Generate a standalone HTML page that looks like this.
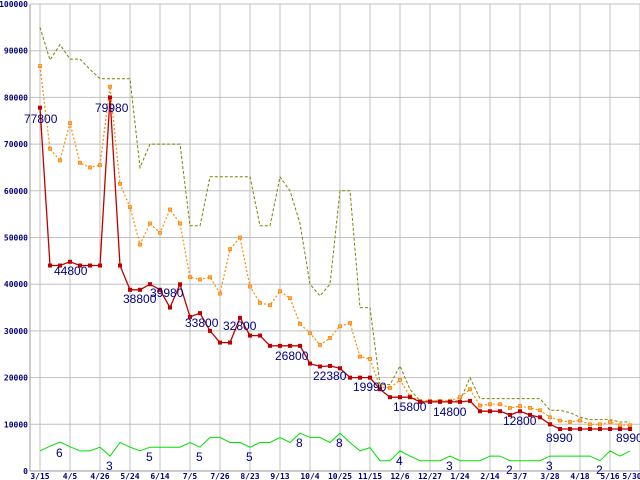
<!DOCTYPE html>
<html><head><style>body{margin:0;background:#fff}svg{display:block}</style></head>
<body>
<svg id="c" width="640" height="480" xmlns="http://www.w3.org/2000/svg" font-family="Liberation Sans, sans-serif"></svg>
<script>
const s=document.getElementById('c');let h='';
const Y=v=>471-v*0.00467;
const X=i=>40+i*10;
// grid
for(let x=40;x<=640;x+=30)h+=`<line x1="${x}" y1="4" x2="${x}" y2="471" stroke="#c0c0c0"/>`;
for(let k=0;k<=10;k++){const y=Y(k*10000).toFixed(1);h+=`<line x1="30" y1="${y}" x2="640" y2="${y}" stroke="#c0c0c0"/>`;
h+=`<text x="28" y="${+y+3}" text-anchor="end" font-size="8" font-weight="bold" fill="#000080" font-family="DejaVu Sans Mono, monospace">${k*10000}</text>`;}
h+=`<line x1="30" y1="4" x2="30" y2="471" stroke="#999"/><line x1="30" y1="471" x2="640" y2="471" stroke="#999"/>`;
const xl=['3/15','4/5','4/26','5/24','6/14','7/5','7/26','8/23','9/13','10/4','10/25','11/15','12/6','12/27','1/24','2/14','3/7','3/28','4/18','5/16','5/30'];
xl.forEach((t,i)=>{const x=i<20?40+30*i:632;h+=`<text x="${x}" y="479" text-anchor="middle" font-size="8" font-weight="bold" fill="#000080" font-family="DejaVu Sans Mono, monospace">${t}</text>`});
const mx=[95000,88000,91300,88200,88200,86000,84000,84000,84000,84000,65000,70000,70000,70000,70000,52500,52500,63000,63000,63000,63000,63000,52500,52500,63000,60000,53000,40000,37500,40000,60000,60000,35000,35000,18500,18500,22500,17500,15000,15000,15000,15000,15000,20000,15500,15500,15500,15500,15500,15500,15500,13000,13000,12500,11500,11000,11000,11000,10500,10500];
const av=[86700,69000,66500,74500,66000,65000,65500,82300,61500,56500,48500,53000,51000,56000,53000,41500,41000,41500,38000,47500,50000,39500,36000,35500,38500,37000,31500,29500,27000,28500,31000,31700,24500,24000,18000,17800,19500,16000,15000,15000,15000,15000,15800,17500,14000,14300,14300,13500,13900,13500,13000,11500,10800,10500,10800,10000,10000,10500,9800,9800];
const mn=[77800,44000,44000,44800,44000,44000,44000,79980,44000,38800,38800,40000,38800,35000,39980,33000,33800,30000,27500,27500,32800,29000,29000,26800,26800,26800,26800,23000,22380,22500,22000,19990,19990,19990,17500,15800,15800,15800,14800,14800,14800,14800,14800,15000,12800,12800,12800,12000,12800,12000,11500,10000,8990,8990,8990,8990,8990,8990,8990,8990];
const gr=[4300,5300,6200,5200,4300,4300,5100,3200,6100,5100,4300,5100,5100,5100,5100,6100,5100,7200,7200,6100,6100,5100,6100,6100,7200,6100,8100,7200,7200,6100,8100,6100,4300,5000,2200,2200,4300,3200,2200,2200,2200,3200,2200,2200,2200,3200,3200,2200,2200,2200,2200,3200,3200,3200,3200,3200,2200,4300,3200,4300];
const pts=a=>a.map((v,i)=>X(i)+','+Y(v).toFixed(1)).join(' ');
h+=`<polyline points="${pts(gr)}" fill="none" stroke="#00e000" stroke-width="1"/>`;
h+=`<polyline points="${pts(mx)}" fill="none" stroke="#808000" stroke-width="1" stroke-dasharray="3,2"/>`;
h+=`<polyline points="${pts(av)}" fill="none" stroke="#ff8c00" stroke-width="1.2" stroke-dasharray="2,2"/>`;
av.forEach((v,i)=>h+=`<rect x="${X(i)-1.5}" y="${Y(v)-1.5}" width="3" height="3" fill="#ffb050" stroke="#ff8000" stroke-width="0.8"/>`);
h+=`<polyline points="${pts(mn)}" fill="none" stroke="#c00000" stroke-width="1.3"/>`;
mn.forEach((v,i)=>h+=`<rect x="${X(i)-2}" y="${Y(v)-2}" width="4" height="4" fill="#c00000"/>`);
const L=[['77800',24,123],['79980',95,112],['44800',54,275],['38800',123,303],['39980',150,297],['33800',185,327],['32800',223,330],['26800',275,360],['22380',313,380],['19990',353,391],['15800',393,411],['14800',433,416],['12800',503,425],['8990',546,442],['8990',616,442],
['6',56,457],['3',106,470],['5',146,461],['5',196,461],['5',246,461],['8',296,447],['8',336,447],['4',396,465],['3',446,470],['2',506,474],['3',546,470],['2',596,474]];
L.forEach(([t,x,y])=>h+=`<text x="${x}" y="${y}" font-size="12" fill="#000080">${t}</text>`);
s.innerHTML=h;
</script>
</body></html>
